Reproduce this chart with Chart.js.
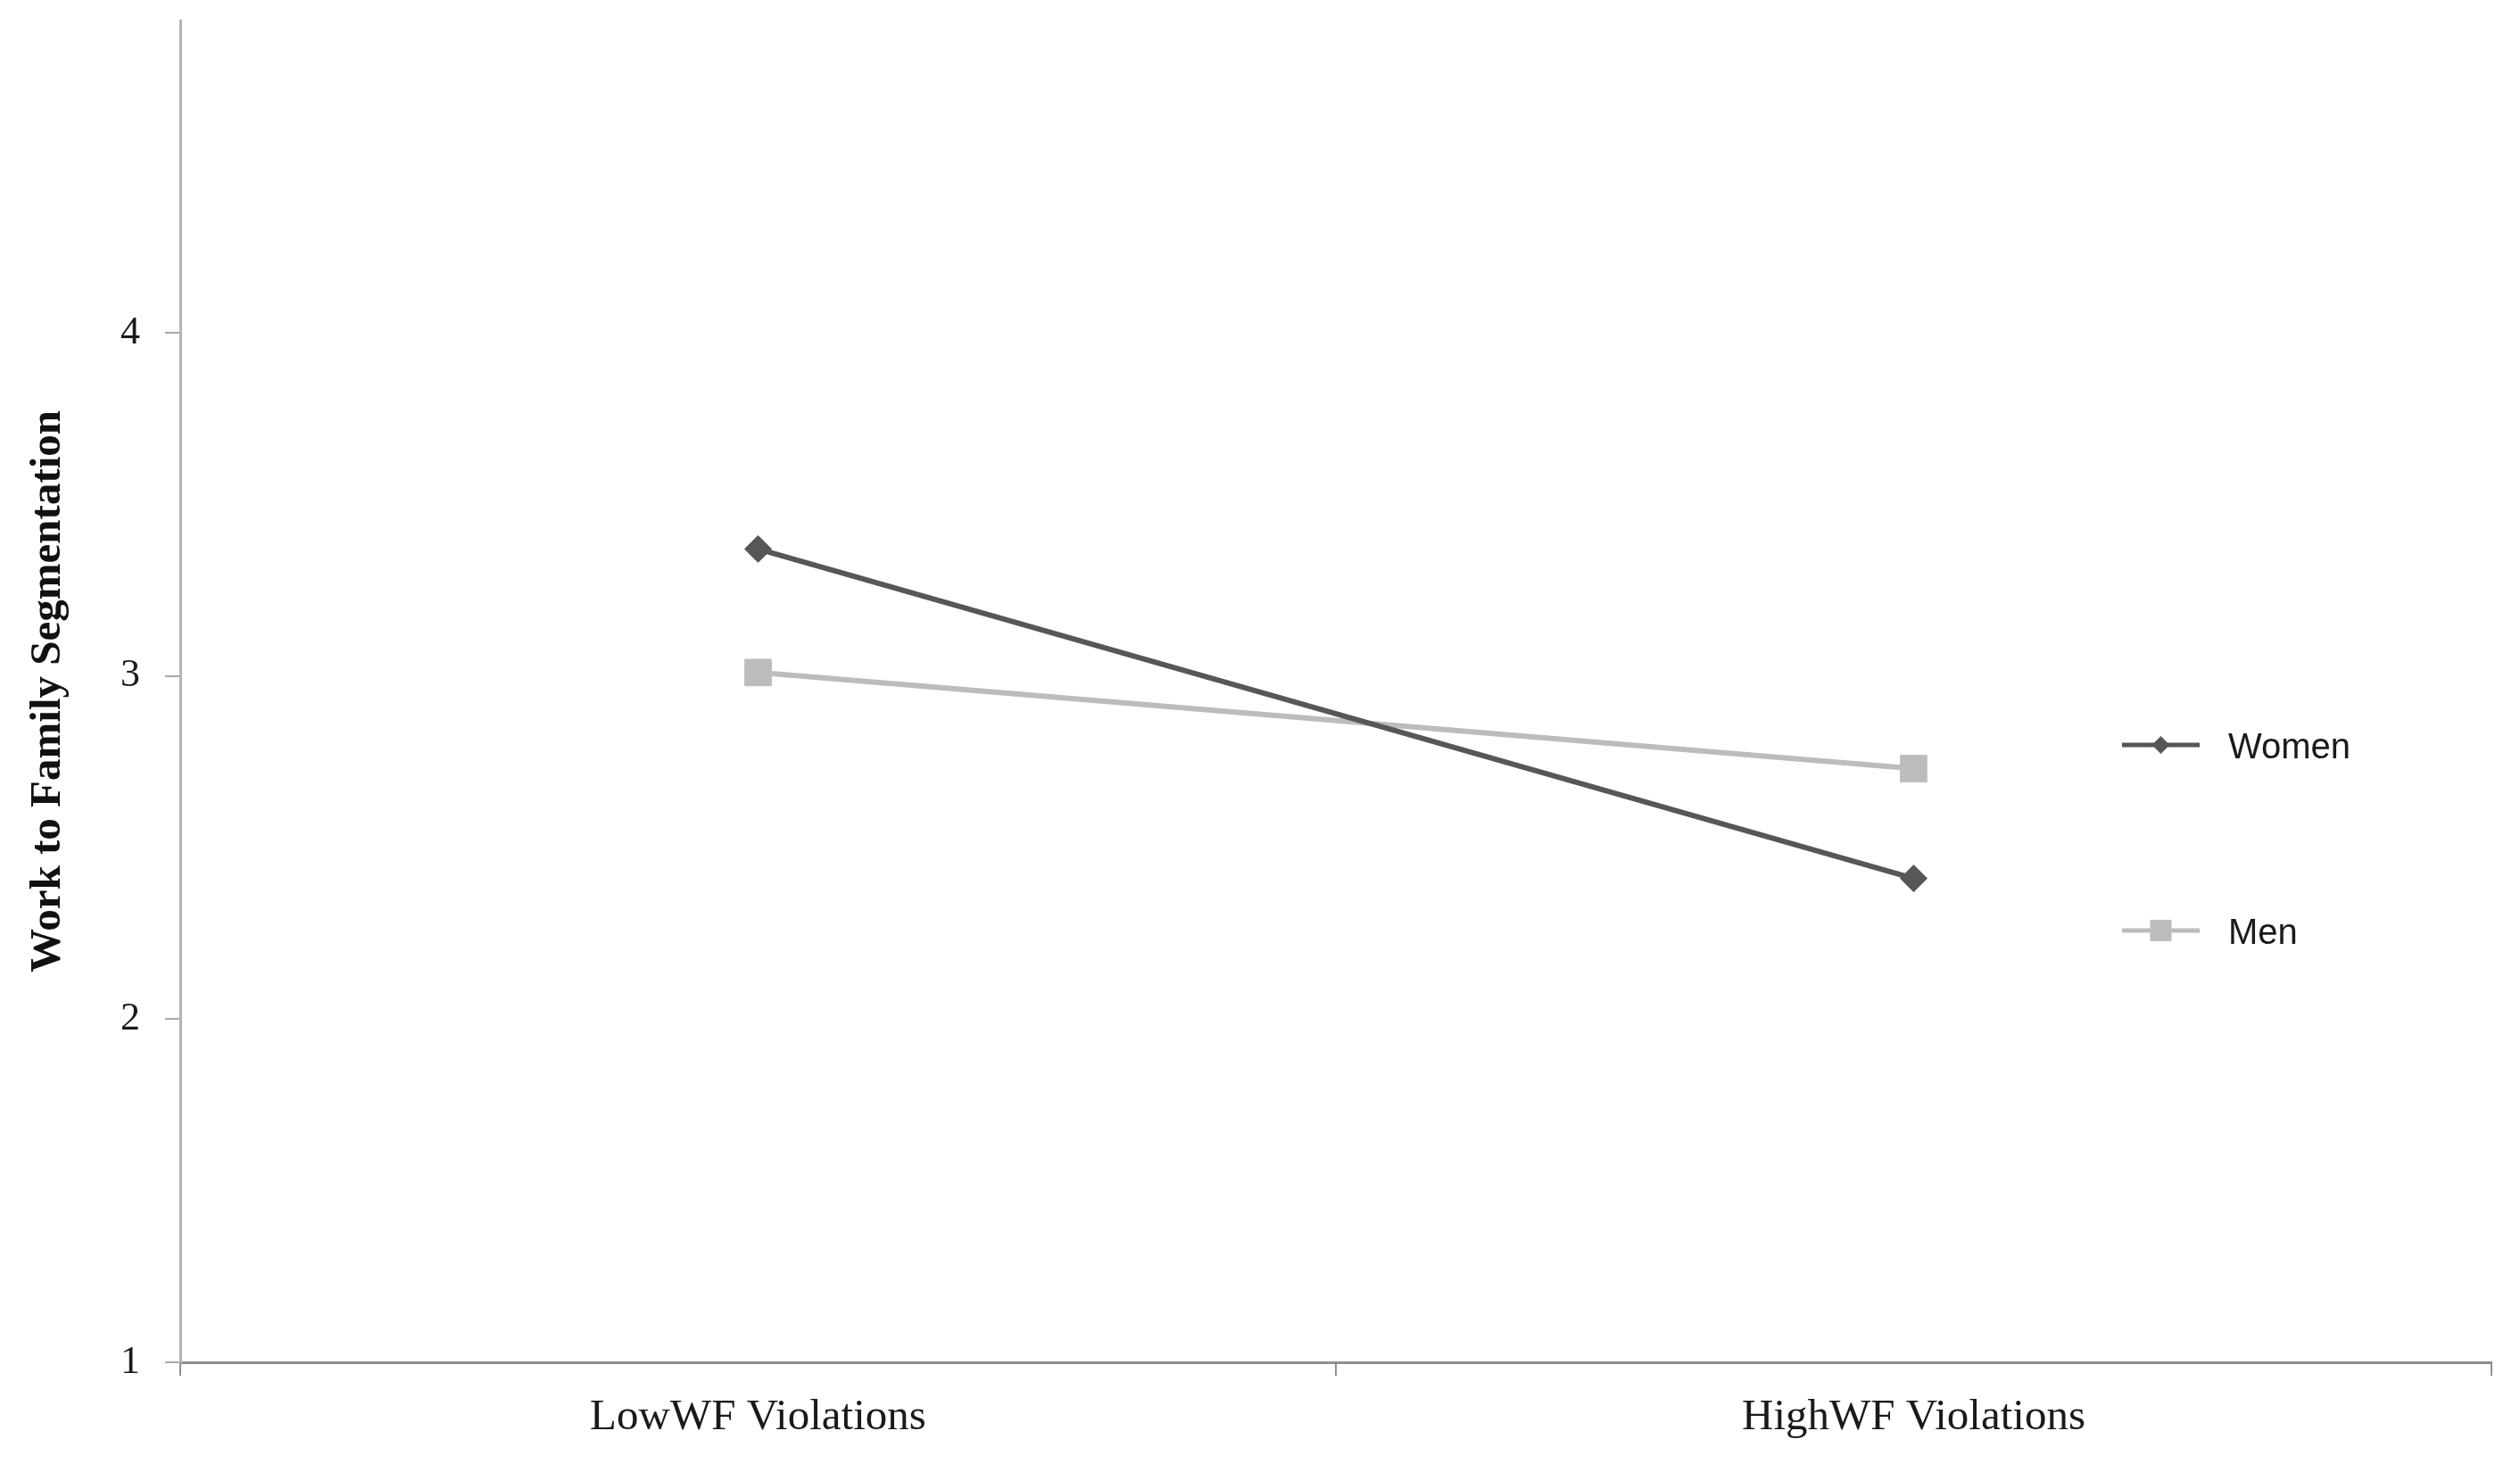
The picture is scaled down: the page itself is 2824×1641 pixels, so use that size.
<!DOCTYPE html>
<html>
<head>
<meta charset="utf-8">
<script src="https://cdn.jsdelivr.net/npm/chart.js@4"></script>
<style>
  html, body { margin: 0; padding: 0; background: #ffffff; }
  #wrap { width: 2824px; height: 1641px; position: relative; }
</style>
</head>
<body>
<div id="wrap"><canvas id="c" width="2824" height="1641"></canvas></div>
<script>
const categories = ["LowWF Violations", "HighWF Violations"];
const seriesNames = ["Women", "Men"];
const womenValues = [3.37, 2.41];
const menValues = [3.01, 2.73];
const yTickValues = [1, 2, 3, 4];
const yAxisTitle = "Work to Family Segmentation";

const womenColor = "#575757";
const menColor = "#bcbcbc";

const legendPlugin = {
  id: "sideLegend",
  afterDraw(chart) {
    const ctx = chart.ctx;
    const area = chart.chartArea;
    const x0 = area.right - 414;
    const rows = [835, 1043];
    chart.data.datasets.forEach((ds, i) => {
      const y = rows[i];
      ctx.save();
      ctx.strokeStyle = ds.borderColor;
      ctx.lineWidth = 5;
      ctx.beginPath();
      ctx.moveTo(x0, y);
      ctx.lineTo(x0 + 87, y);
      ctx.stroke();
      ctx.fillStyle = ds.backgroundColor;
      ctx.beginPath();
      if (ds.pointStyle === "rectRot") {
        const r = 10;
        ctx.moveTo(x0 + 43.5, y - r);
        ctx.lineTo(x0 + 43.5 + r, y);
        ctx.lineTo(x0 + 43.5, y + r);
        ctx.lineTo(x0 + 43.5 - r, y);
        ctx.closePath();
      } else {
        const s = 12;
        ctx.rect(x0 + 43.5 - s, y - s, 2 * s, 2 * s);
      }
      ctx.fill();
      ctx.fillStyle = "#1a1a1a";
      ctx.font = "40px 'Liberation Sans', Arial, sans-serif";
      ctx.textBaseline = "middle";
      ctx.textAlign = "left";
      ctx.fillText(ds.label, x0 + 119, y + 4);
      ctx.restore();
    });
  }
};

new Chart(document.getElementById("c"), {
  type: "line",
  data: {
    labels: categories,
    datasets: [
      {
        label: seriesNames[0],
        data: womenValues,
        borderColor: womenColor,
        backgroundColor: womenColor,
        borderWidth: 6,
        pointStyle: "rectRot",
        pointRadius: 15,
        pointBorderWidth: 1,
        pointBackgroundColor: womenColor,
        pointBorderColor: womenColor,
        tension: 0
      },
      {
        label: seriesNames[1],
        data: menValues,
        borderColor: menColor,
        backgroundColor: menColor,
        borderWidth: 6,
        pointStyle: "rect",
        pointRadius: 21,
        pointBorderWidth: 1,
        pointBackgroundColor: menColor,
        pointBorderColor: menColor,
        tension: 0
      }
    ]
  },
  options: {
    responsive: false,
    animation: false,
    devicePixelRatio: 1,
    layout: { padding: { left: 0, right: 32, top: 23, bottom: 0 } },
    plugins: {
      legend: { display: false },
      tooltip: { enabled: false }
    },
    scales: {
      x: {
        type: "category",
        offset: true,
        grid: {
          offset: true,
          drawOnChartArea: false,
          drawTicks: true,
          tickLength: 15,
          color: "#8f8f8f",
          lineWidth: 2
        },
        border: { display: true, color: "#8f8f8f", width: 3 },
        ticks: {
          color: "#1a1a1a",
          padding: 18,
          font: { family: "'Liberation Serif', 'Times New Roman', serif", size: 49 },
          maxRotation: 0
        },
        afterFit(scale) { scale.height = 114; scale.paddingLeft = 0; scale.paddingRight = 0; }
      },
      y: {
        type: "linear",
        min: 1,
        max: 4.91,
        afterBuildTicks(scale) {
          scale.ticks = yTickValues.map(v => ({ value: v }));
        },
        grid: {
          drawOnChartArea: false,
          drawTicks: true,
          tickLength: 17,
          color: "#a8a8a8",
          lineWidth: 2
        },
        border: { display: true, color: "#b4b4b4", width: 3 },
        ticks: {
          color: "#1a1a1a",
          padding: 28,
          font: { family: "'Liberation Serif', 'Times New Roman', serif", size: 44 },
          callback: (v) => String(v)
        },
        title: {
          display: true,
          text: yAxisTitle,
          color: "#111111",
          padding: { top: 25, bottom: 0 },
          font: { family: "'Liberation Serif', 'Times New Roman', serif", size: 49, weight: "bold" }
        },
        afterFit(scale) { scale.width = 202; scale.paddingTop = 0; scale.paddingBottom = 0; }
      }
    }
  },
  plugins: [legendPlugin]
});
</script>
</body>
</html>
